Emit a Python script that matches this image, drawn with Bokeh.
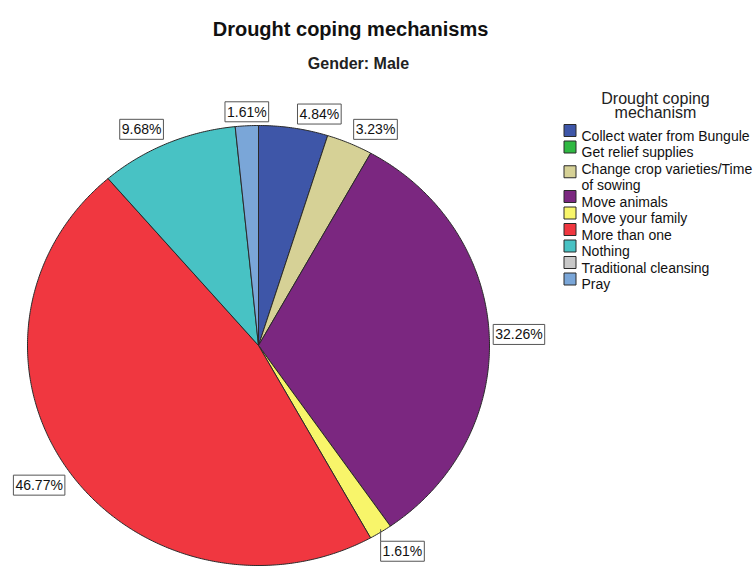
import numpy as np
from bokeh.plotting import figure
from bokeh.models import Range1d, Label
from bokeh.core.properties import value
from bokeh.embed import file_html
from bokeh.resources import INLINE

# Drought coping mechanisms reported by male respondents (percent of respondents)
categories = [
    "Collect water from Bungule",
    "Get relief supplies",
    "Change crop varieties/Time\nof sowing",
    "Move animals",
    "Move your family",
    "More than one",
    "Nothing",
    "Traditional cleansing",
    "Pray",
]
percents = [4.84, 0.0, 3.23, 32.26, 1.61, 46.77, 9.68, 0.0, 1.61]
colors = ["#3e56a8", "#2fb842", "#d6d196", "#7b2780", "#f8f56a",
          "#f03740", "#48c2c4", "#c8c8c8", "#7aa6d8"]

title_text = "Drought coping mechanisms"
subtitle_text = "Gender: Male"
legend_title = ["Drought coping", "mechanism"]

FONT = "Liberation Sans"
W, H = 754, 569

p = figure(width=W, height=H, output_backend="svg", toolbar_location=None,
           x_range=Range1d(0, W), y_range=Range1d(H, 0), min_border=0)
p.axis.visible = False
p.grid.visible = False
p.outline_line_color = None
p.background_fill_color = "white"
p.border_fill_color = "white"

# pie geometry (slightly elliptical, starting at 12 o'clock, clockwise)
cx, cy, rx, ry = 258.0, 345.0, 231.0, 220.0

total = float(sum(percents))
fractions = np.array(percents) / total
ends = np.cumsum(fractions) * 2 * np.pi
starts = ends - fractions * 2 * np.pi

xs, ys, fills = [], [], []
for a0, a1, col in zip(starts, ends, colors):
    if a1 - a0 <= 0:
        continue
    n = max(3, int(np.degrees(a1 - a0) * 2))
    t = np.linspace(a0, a1, n)
    xs.append([cx] + list(cx + rx * np.sin(t)) + [cx])
    ys.append([cy] + list(cy - ry * np.cos(t)) + [cy])
    fills.append(col)

p.patches(xs, ys, fill_color=fills, line_color="#2a2a2a", line_width=1)

# percentage labels at the outer edge of each slice
for pct, a0, a1 in zip(percents, starts, ends):
    if pct <= 0:
        continue
    mid = (a0 + a1) / 2
    sx, cc = np.sin(mid), np.cos(mid)
    ex, ey = cx + rx * sx, cy - ry * cc
    off = 4
    leader = pct < 2 and cc < -0.3
    if leader:
        off = 9
    if sx > 0.1:
        align, dx = "left", off
    elif sx < -0.1:
        align, dx = "right", -off
    else:
        align, dx = "center", 0
    if cc > 0.3:
        base, dy = "bottom", -off
    elif cc < -0.3:
        base, dy = "top", off
    else:
        base, dy = "middle", 0
    if leader:
        dx = 0
        p.segment(x0=[ex], y0=[ey - 3], x1=[ex], y1=[ey + dy],
                  line_color="#555555", line_width=1)
    p.add_layout(Label(x=ex + dx, y=ey + dy, text=f"{pct:.2f}%",
                       text_align=align, text_baseline=base,
                       text_font=FONT, text_font_size="14px", text_color="#111111",
                       background_fill_color="white", border_line_color="#555555",
                       border_line_width=1, padding=2))

# titles
p.text(x=[350], y=[28], text=[title_text], text_font=value(FONT),
       text_font_size="20px", text_font_style="bold", text_align="center",
       text_baseline="alphabetic", text_color="#111111")
p.text(x=[358], y=[63], text=[subtitle_text], text_font=value(FONT),
       text_font_size="16px", text_font_style="bold", text_align="center",
       text_baseline="alphabetic", text_color="#222222")

# legend
p.text(x=[655, 655], y=[98, 112], text=legend_title, text_font=value(FONT),
       text_font_size="16px", text_align="center", text_baseline="alphabetic",
       text_color="#222222")

line_step = 16.5
first_base = 135.0
line_idx = 0
sq_x, sq_y, tx, ty, tt = [], [], [], [], []
for cat in categories:
    lines = cat.split("\n")
    bases = [first_base + line_step * (line_idx + k) for k in range(len(lines))]
    line_idx += len(lines)
    sq_x.append(569.5)
    sq_y.append(np.mean(bases) - 5)
    for b, ln in zip(bases, lines):
        tx.append(581)
        ty.append(b)
        tt.append(ln)

p.rect(x=sq_x, y=sq_y, width=12, height=12, fill_color=colors,
       line_color="#2a2a2a", line_width=1)
p.text(x=tx, y=ty, text=tt, text_font=value(FONT), text_font_size="14px",
       text_align="left", text_baseline="alphabetic", text_color="#111111")

open("out.html", "w").write(file_html(p, INLINE))
